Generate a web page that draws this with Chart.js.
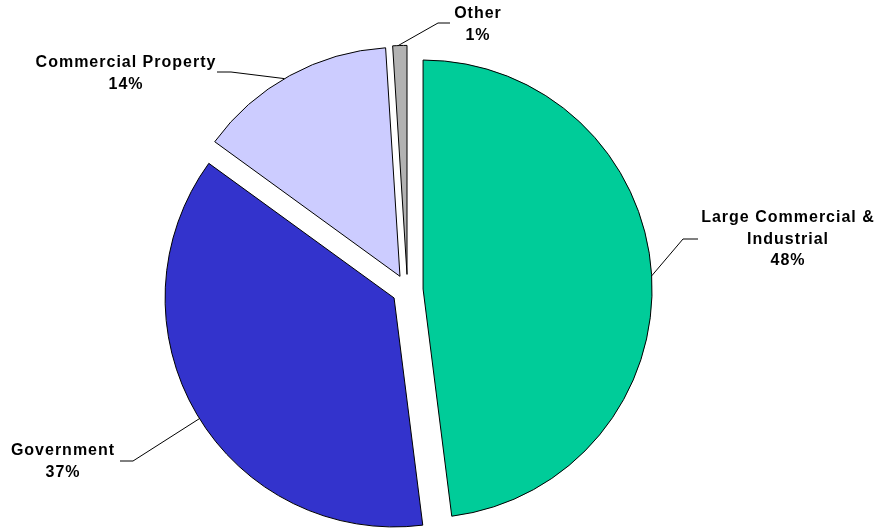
<!DOCTYPE html>
<html>
<head>
<meta charset="utf-8">
<script src="https://cdn.jsdelivr.net/npm/chart.js@4.4.1/dist/chart.umd.min.js"></script>
<style>
  html, body { margin: 0; padding: 0; background: #fff; }
  canvas { display: block; }
</style>
</head>
<body>
<canvas id="c" width="882" height="531"></canvas>
<script>
// ---- data ----
const categories = ['Large Commercial & Industrial', 'Government', 'Commercial Property', 'Other'];
const values = [48, 37, 14, 1];
const labelLines = [
  ['Large Commercial &', 'Industrial'],
  ['Government'],
  ['Commercial Property'],
  ['Other']
];
const colors = ['#00CC99', '#3333CC', '#CCCCFF', '#B2B2B2'];

// ---- layout (styles / positions) ----
const explode = 15.6;
const labelLayout = [
  { cx: 788, cy: 218, anchorDeg: -3.3, kink: [683, 239], end: [698, 239] },
  { cx: 63, cy: 451, anchorDeg: 148.2, kink: [133, 461], end: [120, 461] },
  { cx: 126, cy: 63, anchorDeg: -120.3, kink: [231, 72], end: [217, 72] },
  { cx: 478, cy: 14, anchorDeg: -92.2, kink: [438, 23], end: [450, 23] }
];
const lineHeight = 21.5;

const explodePlugin = {
  id: 'explode',
  afterDatasetUpdate(chart, args) {
    args.meta.data.forEach(arc => {
      const mid = (arc.startAngle + arc.endAngle) / 2;
      arc.x += Math.cos(mid) * explode;
      arc.y += Math.sin(mid) * explode;
    });
  }
};

const labelPlugin = {
  id: 'sliceLabels',
  afterDraw(chart) {
    const ctx = chart.ctx;
    const meta = chart.getDatasetMeta(0);
    const total = values.reduce((a, b) => a + b, 0);
    ctx.save();
    // leader lines
    ctx.strokeStyle = '#000';
    ctx.lineWidth = 1;
    meta.data.forEach((arc, i) => {
      const L = labelLayout[i];
      const a = L.anchorDeg * Math.PI / 180;
      const ax = arc.x + Math.cos(a) * arc.outerRadius;
      const ay = arc.y + Math.sin(a) * arc.outerRadius;
      ctx.beginPath();
      ctx.moveTo(ax, ay);
      ctx.lineTo(L.kink[0], L.kink[1]);
      ctx.lineTo(L.end[0], L.end[1]);
      ctx.stroke();
    });
    // texts
    ctx.fillStyle = '#000';
    ctx.font = 'bold 16px "Liberation Sans", Arial, sans-serif';
    ctx.textAlign = 'center';
    ctx.textBaseline = 'middle';
    try { ctx.letterSpacing = '1px'; } catch (e) {}
    values.forEach((v, i) => {
      const L = labelLayout[i];
      const lines = labelLines[i].concat([Math.round(v / total * 100) + '%']);
      lines.forEach((t, k) => {
        ctx.fillText(t, L.cx, L.cy + k * lineHeight);
      });
    });
    ctx.restore();
  }
};

new Chart(document.getElementById('c'), {
  type: 'pie',
  data: {
    labels: categories,
    datasets: [{
      data: values,
      backgroundColor: colors,
      borderColor: '#000',
      borderWidth: 1
    }]
  },
  options: {
    responsive: false,
    animation: false,
    radius: 229,
    layout: { padding: { left: 0, right: 67, top: 49, bottom: 0 } },
    plugins: {
      legend: { display: false },
      tooltip: { enabled: false }
    }
  },
  plugins: [explodePlugin, labelPlugin]
});
</script>
</body>
</html>
